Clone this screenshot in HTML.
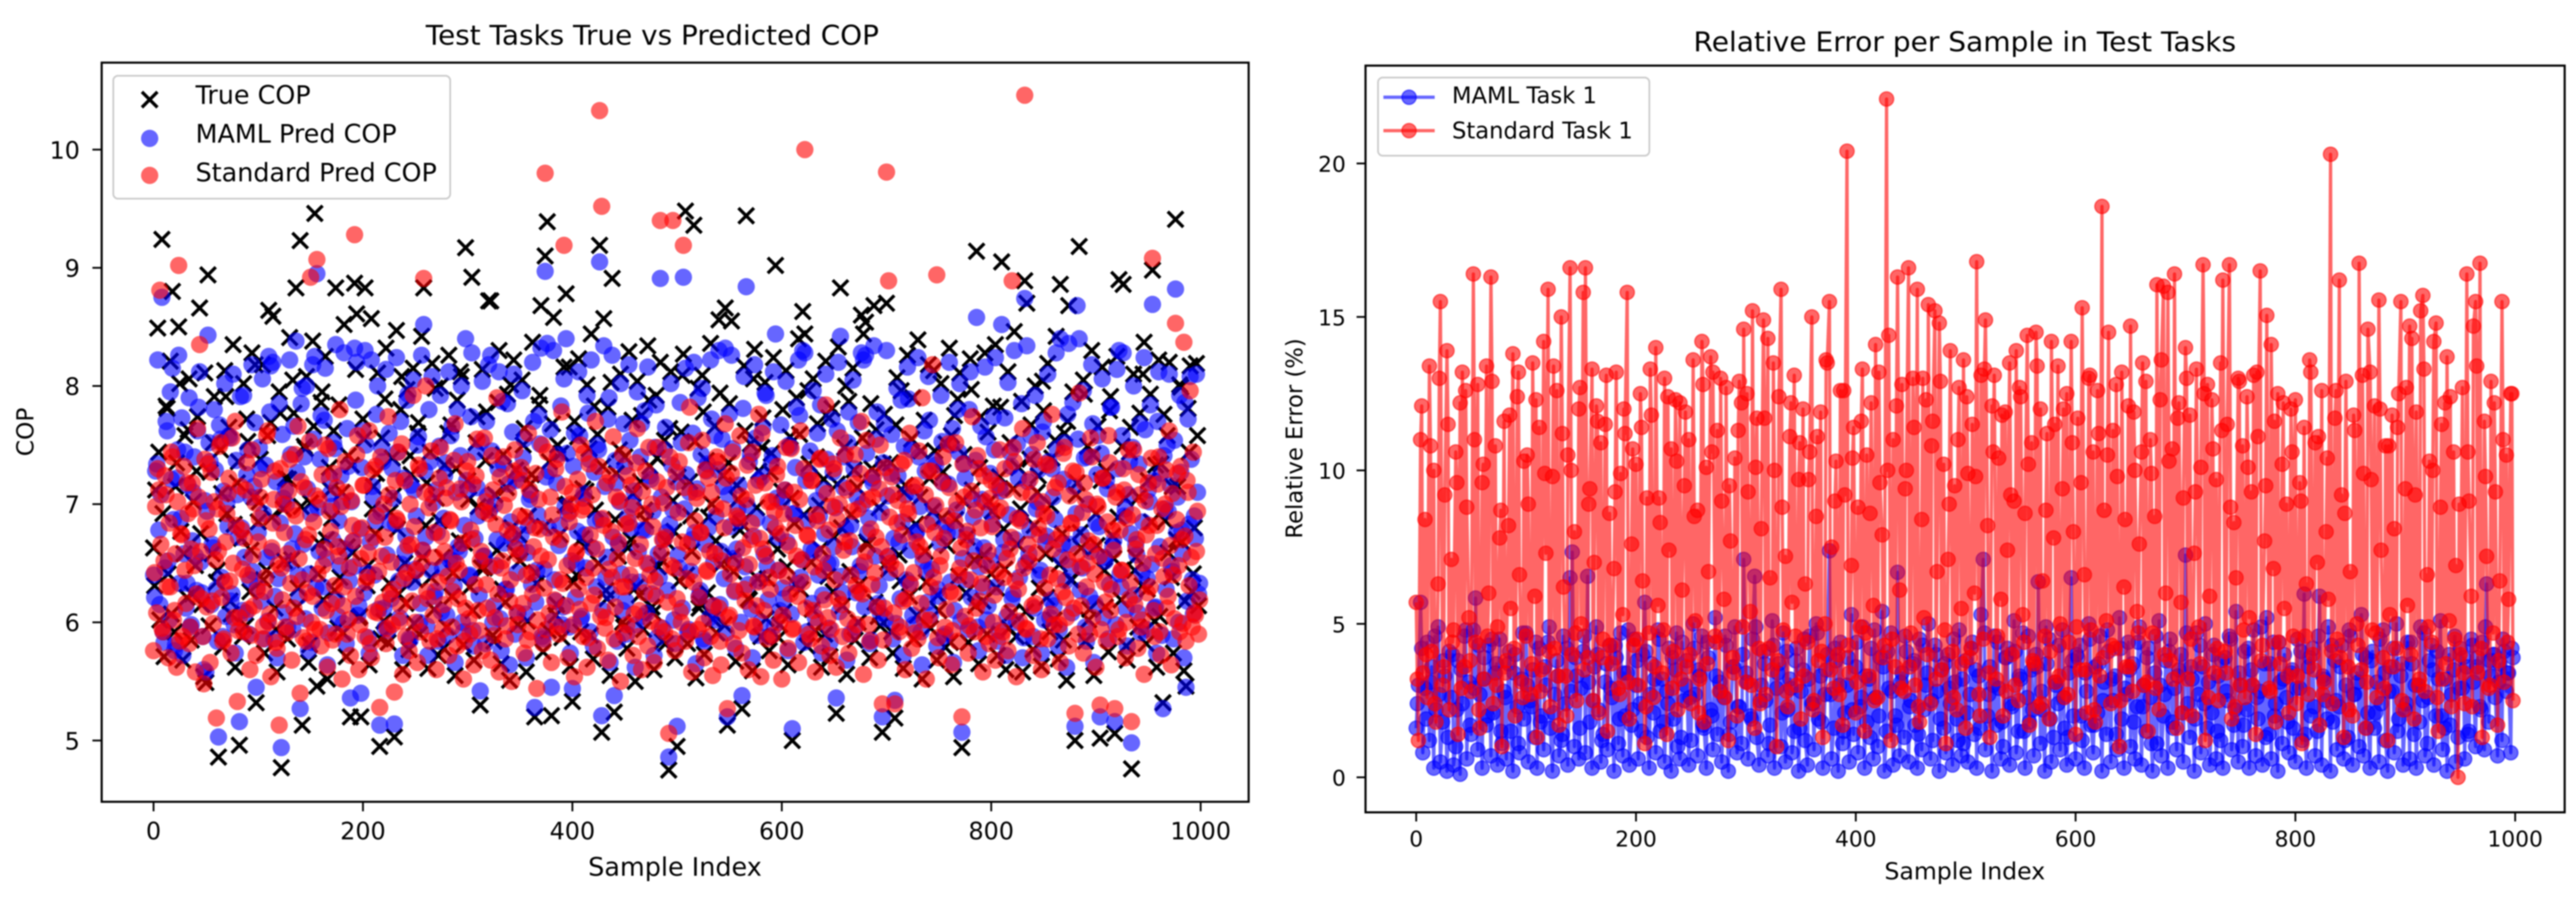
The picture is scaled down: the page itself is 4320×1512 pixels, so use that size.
<!DOCTYPE html>
<html lang="en">
<head>
<meta charset="utf-8">
<title>COP prediction charts</title>
<style>
html,body{margin:0;padding:0;background:#fff;}
#figure{display:block;width:4320px;height:1512px;filter:blur(1px);font-family:"DejaVu Sans","Liberation Sans",sans-serif;fill:#000;}
</style>
</head>
<body>
<svg id="figure" xmlns="http://www.w3.org/2000/svg" width="4320" height="1512" viewBox="0 0 4320 1512">
<rect x="0" y="0" width="4320" height="1512" fill="#fff"/>
<g id="left-panel">
  <g id="left-true"></g>
  <g id="left-maml"></g>
  <g id="left-std"></g>
  <g id="left-ticks"></g>
  <rect x="170.5" y="105" width="1923.5" height="1239" fill="none" stroke="#000" stroke-width="3.5"/>
  <text x="714" y="75" font-size="45" textLength="760" lengthAdjust="spacingAndGlyphs">Test Tasks True vs Predicted COP</text>
  <text x="1132" y="1468" font-size="42.7" text-anchor="middle">Sample Index</text>
  <text transform="translate(56,724) rotate(-90)" font-size="39" text-anchor="middle">COP</text>
  <g>
    <rect x="190" y="127" width="565" height="206" rx="8" fill="#fff" fill-opacity="0.8" stroke="#ccc" stroke-width="3"/>
    <path d="M238 154L264 180M238 180L264 154" stroke="#000" stroke-width="5.5" fill="none"/>
    <text x="328" y="174" font-size="42.6">True COP</text>
    <circle cx="251" cy="232" r="14.5" fill="#00f" fill-opacity="0.6"/>
    <text x="328" y="239" font-size="42.6">MAML Pred COP</text>
    <circle cx="251" cy="294" r="14.5" fill="#f00" fill-opacity="0.6"/>
    <text x="328" y="304" font-size="42.6">Standard Pred COP</text>
  </g>
</g>
<g id="right-panel">
  <g id="right-maml"></g>
  <g id="right-std"></g>
  <g id="right-ticks"></g>
  <rect x="2290" y="110" width="2011" height="1251.7" fill="none" stroke="#000" stroke-width="3.5"/>
  <text x="2840" y="86" font-size="45" textLength="910" lengthAdjust="spacingAndGlyphs">Relative Error per Sample in Test Tasks</text>
  <text x="3295" y="1474" font-size="39.5" text-anchor="middle">Sample Index</text>
  <text transform="translate(2184,735) rotate(-90)" font-size="38" text-anchor="middle">Relative Error (%)</text>
  <g>
    <rect x="2311" y="130" width="455" height="131" rx="8" fill="#fff" fill-opacity="0.8" stroke="#ccc" stroke-width="3"/>
    <line x1="2320" y1="163" x2="2406" y2="163" stroke="#00f" stroke-opacity="0.6" stroke-width="5.5"/>
    <circle cx="2363" cy="163" r="12" fill="#00f" fill-opacity="0.6" stroke="#00f" stroke-opacity="0.6" stroke-width="2"/>
    <text x="2435" y="173" font-size="38">MAML Task 1</text>
    <line x1="2320" y1="219" x2="2406" y2="219" stroke="#f00" stroke-opacity="0.6" stroke-width="5.5"/>
    <circle cx="2363" cy="219" r="12" fill="#f00" fill-opacity="0.6" stroke="#f00" stroke-opacity="0.6" stroke-width="2"/>
    <text x="2435" y="232" font-size="38">Standard Task 1</text>
  </g>
</g>
</svg>
<script>
const sampleStep = 2;
const extraStep = 4;
const xTicks = [0,200,400,600,800,1000];
const copTicks = [5,6,7,8,9,10];
const errorTicks = [0,5,10,15,20];
const trueCop = [
6.63,7.12,8.49,6.02,9.24,5.71,7.83,6.41,8.21,8.80,5.92,7.35,8.50,6.77,5.68,7.58,6.21,8.06,5.85,7.02,6.48,7.74,8.66,6.15,5.54,
5.49,8.94,7.27,6.58,7.91,6.34,4.86,7.46,5.79,8.13,6.92,7.65,6.07,8.35,5.62,7.18,4.96,6.71,8.02,5.97,7.53,6.26,8.28,7.06,5.32,
6.85,7.38,8.18,5.74,6.44,8.64,7.69,8.59,6.12,5.58,7.95,4.77,6.96,7.22,5.86,8.41,6.53,7.77,8.83,6.29,9.23,5.13,7.49,8.08,5.66,
7.01,8.38,9.46,5.46,6.67,7.86,6.19,8.25,5.52,7.31,6.88,7.62,8.83,5.95,6.38,7.10,8.52,5.71,7.41,5.20,6.59,8.87,8.61,6.04,5.20,
7.72,8.83,6.31,5.64,8.57,7.15,6.75,8.11,4.95,7.56,6.01,8.32,5.83,6.93,7.39,5.03,8.47,6.24,7.80,5.60,6.50,7.97,5.77,7.25,8.15,
6.36,7.60,5.90,8.42,8.83,6.82,5.61,7.44,8.19,6.11,7.05,5.72,8.00,6.55,7.33,5.96,8.26,7.67,6.42,5.55,7.88,6.69,8.08,5.81,9.17,
7.20,6.30,8.92,5.68,7.52,6.98,5.30,8.14,6.46,7.78,8.72,8.72,5.89,7.08,6.61,8.30,5.65,7.42,6.17,7.93,5.51,6.80,8.22,7.29,5.98,
6.52,8.05,7.64,5.58,6.90,7.17,8.37,5.20,6.33,7.84,8.68,5.75,9.10,9.39,7.36,5.21,8.58,6.06,7.50,6.74,5.87,8.16,8.78,7.00,5.63,
5.33,7.70,6.40,8.23,5.92,7.13,6.64,8.01,7.47,8.44,5.69,6.95,7.59,9.19,5.07,8.57,6.27,7.82,5.55,8.91,5.24,7.26,6.56,8.10,6.00,
7.40,5.78,8.29,6.70,7.09,5.50,8.04,6.23,7.75,5.94,6.86,8.34,7.32,6.13,5.60,7.92,6.47,8.20,5.84,7.54,6.68,4.75,8.12,7.03,5.70,
4.95,6.35,7.61,8.27,9.48,5.82,7.19,6.60,9.36,5.53,7.98,6.16,8.09,5.73,7.37,6.89,8.36,6.03,7.66,5.91,8.56,6.49,7.24,8.66,5.13,
7.85,8.55,6.43,5.67,7.04,6.78,5.27,8.17,9.44,6.20,7.51,5.59,8.31,6.97,7.28,5.88,7.73,8.03,6.37,5.76,7.43,8.24,9.02,6.62,5.98,
7.11,6.09,8.13,5.64,7.57,5.00,6.84,7.90,8.40,6.28,8.63,8.44,5.80,7.34,6.51,8.06,5.93,7.68,6.99,5.62,7.21,8.21,6.39,5.71,7.81,
6.72,5.23,8.33,8.83,6.14,7.48,5.56,7.87,6.91,8.15,5.85,7.14,6.32,8.60,8.44,8.54,6.66,5.70,7.30,8.68,7.63,6.05,5.97,5.07,7.76,
8.70,6.45,7.35,5.74,5.19,8.07,6.57,7.96,5.61,7.16,8.26,6.22,7.55,5.86,6.83,8.39,7.06,5.52,7.71,6.34,8.18,5.95,6.94,7.45,5.68,
6.10,8.02,7.27,5.79,6.65,8.32,7.58,5.54,6.87,7.89,8.11,4.94,7.42,6.25,5.83,8.23,7.12,6.53,9.14,5.65,7.74,6.18,8.28,5.90,7.02,
6.41,7.83,8.35,5.72,7.23,9.05,6.79,5.60,8.12,7.52,6.08,8.46,5.88,7.31,6.96,5.58,8.89,8.70,6.48,7.67,5.77,8.00,7.10,6.29,5.63,
7.79,6.58,8.19,5.92,7.39,6.02,8.42,5.69,8.86,6.75,7.60,5.51,8.68,6.36,7.95,5.00,7.18,9.18,6.63,8.05,5.84,7.49,6.11,8.30,5.55,
6.92,7.66,5.02,8.16,6.44,7.28,5.75,7.91,6.73,5.06,8.25,8.90,6.19,8.86,7.05,5.68,7.44,4.76,8.10,6.55,5.96,7.77,6.31,8.37,5.82,
7.20,7.93,8.98,6.01,5.62,8.22,7.34,5.32,6.86,7.58,8.20,6.38,5.74,9.41,7.15,8.01,6.68,5.59,5.46,7.81,8.17,6.26,6.80,8.19,6.14
];
const trueCopExtra = [
6.31,7.44,6.92,7.81,6.07,7.15,8.02,6.58,7.63,6.24,7.28,6.75,8.11,5.97,7.52,6.44,7.09,7.91,6.18,6.83,7.36,5.88,7.72,6.61,8.18,
7.02,6.36,7.58,6.89,5.94,7.77,6.52,7.21,8.05,6.13,6.98,7.47,5.81,7.66,6.41,7.95,6.70,7.12,6.27,7.84,5.91,6.64,7.33,8.14,6.05,
7.55,6.48,6.96,7.26,5.86,7.89,6.33,7.07,6.79,8.08,6.16,7.41,5.99,7.69,6.55,7.18,6.38,7.98,6.86,5.78,7.60,6.22,7.30,8.12,6.67,
7.04,6.10,7.74,6.46,7.37,6.93,5.84,7.86,6.28,7.14,8.01,6.59,6.74,7.50,6.01,7.25,6.42,7.92,6.81,5.93,7.68,6.15,7.43,6.99,8.16,
6.34,7.57,6.71,7.11,5.89,7.83,6.50,7.32,6.20,8.03,6.87,7.46,5.96,6.63,7.71,6.30,7.19,6.95,7.88,6.08,7.39,6.53,5.82,7.64,6.77,
7.23,8.09,6.40,6.90,7.53,6.12,7.78,6.25,7.00,6.69,7.94,5.98,7.35,6.56,7.16,6.84,7.62,6.19,8.06,6.37,7.48,6.03,7.27,6.73,5.87,
7.80,6.47,7.05,6.32,7.59,6.91,7.96,6.11,7.40,6.62,5.90,7.73,6.26,7.17,6.80,8.00,6.43,7.29,6.00,7.56,6.68,7.85,6.17,6.97,7.34,
6.51,5.92,7.67,6.35,7.10,6.78,7.90,6.06,7.45,6.60,7.22,8.13,6.23,6.88,7.51,5.83,7.75,6.39,7.03,6.72,7.97,6.14,7.31,6.57,7.61,
6.94,6.29,7.82,6.45,5.95,7.13,6.66,7.87,6.09,7.38,6.82,7.24,8.04,6.21,6.99,7.54,6.49,5.85,7.70,6.36,7.08,6.76,7.93,6.02,7.42,
6.65,7.20,6.13,7.79,6.54,6.89,7.49,5.80,7.65,6.44,7.06,8.10,6.28,6.85,7.33,6.05,7.76,6.59,7.15,6.70,7.99,6.18,7.44,6.41,7.58
];
const mamlCop = [
6.40,7.28,8.22,6.15,8.75,5.83,7.70,6.52,7.95,8.15,5.76,7.22,8.26,6.88,5.72,7.44,6.33,7.90,5.98,7.10,6.56,7.62,8.12,6.25,5.60,
5.58,8.43,7.36,6.66,7.80,6.28,5.03,7.55,5.88,8.02,7.01,7.58,6.18,8.10,5.74,7.08,5.16,6.80,7.92,6.08,7.46,6.36,8.18,7.15,5.45,
6.76,7.30,8.06,5.86,6.55,8.25,8.17,8.20,6.22,5.70,7.85,4.94,7.05,7.12,5.96,8.22,6.62,7.66,8.38,6.40,5.27,7.98,7.40,8.00,5.76,
6.92,8.18,8.25,8.95,6.60,7.75,6.30,8.15,5.64,7.22,6.98,7.52,8.35,6.05,6.48,7.02,8.28,5.82,7.32,5.36,6.68,8.32,8.20,6.14,5.40,
7.62,8.30,6.42,5.74,8.22,7.06,6.86,8.00,5.13,7.48,6.12,8.14,5.93,6.84,7.30,5.14,8.24,6.35,7.70,5.72,6.60,7.88,5.86,7.16,8.05,
6.45,7.50,6.00,8.26,8.52,6.72,5.72,7.36,8.08,6.22,7.12,5.84,7.92,6.46,7.24,6.06,8.12,7.58,6.52,5.66,7.80,6.60,8.00,5.92,8.40,
7.12,6.40,8.28,5.80,7.44,6.90,5.42,8.04,6.56,7.70,8.18,8.26,6.00,7.00,6.70,8.12,5.76,7.34,6.28,7.85,5.64,6.72,8.10,7.20,6.08,
6.62,7.96,7.55,5.70,6.82,7.08,8.20,5.28,6.44,7.75,8.32,5.86,8.97,8.36,7.28,5.45,8.30,6.18,7.42,6.82,5.98,8.06,8.40,6.92,5.74,
5.44,7.60,6.50,8.12,6.03,7.05,6.74,7.92,7.38,8.22,5.80,6.86,7.50,9.05,5.21,8.34,6.38,7.72,5.66,8.26,5.38,7.18,6.66,8.02,6.10,
7.32,5.90,8.18,6.80,7.00,5.62,7.95,6.34,7.68,6.05,6.78,8.16,7.24,6.24,5.72,7.84,6.58,8.91,5.95,7.46,6.76,4.86,8.02,6.95,5.82,
5.12,6.46,7.52,8.92,8.15,5.92,7.10,6.70,8.20,5.65,7.90,6.27,7.98,5.84,7.28,6.80,8.22,6.14,7.58,6.02,8.30,6.60,7.15,8.32,5.20,
7.76,8.26,6.54,5.78,6.96,6.86,5.38,8.08,8.84,6.32,7.42,5.70,8.18,6.88,7.20,6.00,7.65,7.94,6.48,5.88,7.34,8.12,8.44,6.72,6.10,
7.02,6.20,8.04,5.76,7.48,5.10,6.92,7.82,8.22,6.38,8.30,8.28,5.92,7.26,6.62,7.96,6.04,7.60,6.90,5.74,7.12,8.10,6.50,5.83,7.72,
6.64,5.36,8.20,8.42,6.25,7.40,5.68,7.78,6.82,8.05,5.96,7.06,6.43,8.28,8.22,8.26,6.76,5.82,7.22,8.34,7.55,6.16,6.08,5.20,7.68,
8.30,6.56,7.26,5.86,5.34,7.98,6.68,7.88,5.72,7.08,8.16,6.33,7.46,5.98,6.75,8.24,6.98,5.64,7.62,6.44,8.08,6.06,6.85,7.36,5.80,
6.22,7.92,7.18,5.90,6.76,8.20,7.50,5.66,6.78,7.80,8.02,5.07,7.34,6.36,5.94,8.12,7.04,6.64,8.58,5.76,7.66,6.30,8.16,6.02,6.94,
6.52,7.74,8.24,5.84,7.14,8.52,6.70,5.72,8.03,7.44,6.20,8.30,6.00,7.22,6.88,5.70,8.74,8.34,6.58,7.58,5.88,7.92,7.02,6.40,5.74,
7.70,6.68,8.10,6.04,7.30,6.14,8.28,5.80,8.40,6.66,7.52,5.62,8.36,6.47,7.86,5.12,8.68,8.40,6.74,7.96,5.96,7.40,6.22,8.18,5.66,
6.84,7.58,5.20,8.06,6.55,7.20,5.86,7.82,6.64,5.16,8.14,8.30,6.30,8.28,6.96,5.80,7.36,4.98,8.00,6.66,6.08,7.68,6.42,8.24,5.94,
7.12,7.84,8.69,6.12,5.74,8.12,7.26,5.27,6.96,7.50,8.10,6.48,5.86,8.82,7.06,7.92,6.78,5.70,5.45,7.72,8.08,6.36,6.90,8.10,6.24
];
const mamlCopExtra = [
6.21,7.34,6.78,7.08,5.92,6.46,7.62,6.02,7.21,6.87,5.81,7.46,6.33,7.73,6.58,6.12,7.16,5.96,6.69,7.40,6.27,7.82,6.51,5.88,7.03,
6.94,7.52,6.15,6.63,7.29,5.84,7.67,6.38,7.11,6.05,6.81,7.56,6.24,5.98,7.37,6.72,7.91,6.10,6.55,7.25,5.90,7.06,6.43,7.69,6.30,
7.48,6.18,6.92,7.33,6.01,7.78,6.60,5.86,7.19,6.37,6.84,7.59,6.08,7.00,6.50,7.42,5.94,6.75,7.27,6.22,7.85,6.66,6.03,7.13,6.41,
5.83,7.55,6.29,6.97,7.38,6.12,7.71,6.54,5.91,7.09,6.70,7.47,6.19,6.86,7.24,5.99,6.62,7.64,6.35,7.02,6.47,7.88,6.06,6.79,7.31,
6.25,7.50,5.87,6.68,7.15,6.40,7.76,6.11,6.93,7.36,5.95,6.57,7.60,6.20,7.05,6.83,7.44,6.04,6.49,7.22,6.73,7.93,5.85,6.34,7.12,
6.90,7.57,6.16,6.61,7.28,5.97,7.80,6.44,7.01,6.26,6.76,7.49,6.09,6.88,7.35,5.89,6.53,7.66,6.31,7.10,6.64,7.41,6.00,6.82,7.20,
6.39,7.74,5.93,6.71,7.14,6.23,7.53,6.56,5.82,7.07,6.95,7.45,6.14,6.48,7.30,6.03,7.87,6.67,6.28,7.17,6.85,7.61,5.90,6.42,7.26,
6.74,7.39,6.07,6.59,7.04,6.32,7.70,6.17,6.91,7.51,5.88,6.45,7.23,6.80,7.63,6.01,6.36,7.18,6.65,7.83,6.13,6.98,7.43,5.96,6.52,
7.32,6.21,6.77,7.58,6.05,7.09,6.46,7.77,5.92,6.63,7.27,6.30,7.46,6.87,6.10,7.15,6.55,7.90,6.24,6.72,7.37,5.84,7.02,6.41,7.68,
6.18,6.89,7.54,6.34,7.11,5.98,6.60,7.40,6.78,7.79,6.08,6.49,7.21,6.94,7.48,5.87,6.38,7.06,6.70,7.65,6.27,6.83,7.33,6.02,7.19,
6.57,7.86,6.12,6.96,7.25,5.94,6.43,7.60,6.76,7.13,6.22,7.42,5.86,6.66,7.34,6.04,7.72,6.51,6.90,7.29,6.15,7.55,6.37,5.91,7.08,
6.81,7.47,6.26,6.62,7.16,6.00,7.81,6.47,6.99,7.36,6.11,6.73,7.56,5.89,6.35,7.23,6.58,7.92,6.19,6.84,7.41,5.97,7.05,6.44,7.67,
6.29,7.12,6.68,7.50,6.07,6.92,7.31,6.33,7.75,6.53,5.83,7.20,6.86,7.45,6.16,6.60,7.03,6.40,7.84,6.23,6.75,7.38,5.95,6.50,7.27,
6.97,7.62,6.09,6.39,7.14,6.79,7.52,5.90,6.64,7.30,6.25,7.69,6.48,7.00,6.13,7.43,6.88,5.85,7.18,6.56,7.78,6.31,6.93,7.35,6.03,
7.07,6.42,7.59,6.71,5.99,7.24,6.20,6.85,7.49,6.36,7.89,6.61,6.06,7.10,6.77,7.40,5.92,6.52,7.28,6.17,7.71,6.45,6.98,7.33,6.28,
6.67,7.53,5.88,6.82,7.17,6.34,7.64,6.10,6.95,7.44,6.01,6.54,7.22,6.74,7.80,6.21,6.89,7.37,5.96,6.47,7.04,6.63,7.57,6.14,7.26,
6.83,7.46,6.30,5.93,7.11,6.59,7.73,6.05,6.91,7.32,6.24,6.70,7.51,6.38,7.85,5.87,6.50,7.19,6.78,7.42,6.12,6.96,7.29,6.44,7.61,
6.02,6.73,7.36,6.19,7.06,6.87,7.47,5.94,6.55,7.21,6.35,7.76,6.66,6.08,7.15,6.92,7.55,6.27,6.46,7.39,5.84,7.00,6.60,7.68,6.16,
7.25,6.81,7.43,6.04,6.52,7.13,6.32,7.82,6.69,5.98,7.30,6.41,7.58,6.90,6.11,7.08,6.75,7.48,6.23,6.57,7.34,5.91,6.85,7.63,6.37,
7.02,6.49,7.20,6.13,7.70,6.64,5.89,7.41,6.28,6.94,7.16,6.43,7.54,6.76,6.00,7.27,6.58,7.86,6.18,6.83,7.38,6.07,6.71,7.10,6.33
];
const standardCop = [
5.76,6.98,7.30,8.81,5.95,6.52,7.08,5.70,6.30,7.40,6.10,5.62,9.02,6.75,5.88,6.44,7.18,5.82,6.62,6.96,5.58,7.64,8.35,6.20,5.48,
6.86,7.34,5.66,6.18,7.02,5.19,6.60,7.52,5.84,6.34,6.92,7.22,5.74,6.50,7.70,5.33,6.04,6.78,5.92,7.12,6.40,5.60,7.46,6.14,5.72,
6.68,7.06,5.86,6.26,7.58,6.00,5.54,6.84,7.28,5.78,5.13,6.46,7.00,5.96,6.58,7.38,5.68,6.12,6.90,7.66,5.40,6.36,7.14,5.84,6.74,
8.92,6.22,5.94,9.07,7.04,5.80,6.48,7.50,5.62,6.94,6.16,7.26,5.90,6.64,7.80,5.52,6.30,7.10,6.02,5.72,6.82,9.28,7.42,5.60,6.54,
7.16,5.88,6.38,7.62,5.70,6.72,7.32,6.08,5.28,6.56,7.00,5.82,7.74,6.24,5.98,5.41,6.88,7.44,6.14,5.56,7.20,6.42,5.76,6.66,7.92,
6.00,5.66,7.30,6.50,8.91,8.00,6.20,5.84,7.08,6.76,5.60,6.34,7.48,5.94,6.60,7.14,5.72,6.86,6.26,7.68,5.80,6.44,7.02,5.52,6.12,
7.36,5.90,6.70,5.64,7.24,6.10,6.52,5.76,7.56,6.32,6.92,5.68,7.12,6.04,7.90,5.58,6.46,7.40,5.86,6.78,6.18,5.50,7.28,6.62,5.98,
6.90,7.20,5.74,6.40,7.60,5.92,6.24,6.80,5.44,7.04,6.56,5.82,9.80,7.44,6.08,5.66,6.72,7.30,5.96,6.36,7.78,9.19,6.14,5.70,6.94,
7.10,5.54,6.60,6.28,7.50,5.88,6.98,5.62,7.34,6.16,6.46,7.70,5.78,10.33,9.52,6.82,6.04,5.68,7.24,6.38,5.86,7.06,6.68,5.50,7.42,
6.30,5.98,6.84,7.16,5.72,6.54,7.64,6.10,5.60,6.92,7.28,5.80,6.40,7.00,5.66,6.22,7.48,9.40,6.70,5.92,7.14,5.06,6.48,9.40,5.76,
6.20,7.36,6.00,9.19,5.84,6.66,7.82,5.58,6.34,7.10,5.94,6.76,7.54,5.70,6.44,7.22,5.88,5.55,6.58,7.40,6.12,5.64,6.96,7.68,5.27,
6.06,7.26,5.82,6.50,6.88,7.58,5.74,6.28,7.04,5.60,6.70,7.44,5.96,6.14,7.76,5.54,6.62,7.18,5.86,6.38,7.02,5.68,6.80,7.32,6.00,
5.52,6.92,7.48,5.78,6.24,5.94,7.10,6.56,5.66,7.62,6.34,10.00,6.74,5.90,7.20,6.10,5.58,6.86,7.38,5.80,6.44,7.84,6.04,5.72,6.98,
7.30,5.62,6.20,7.56,5.88,6.68,7.12,5.74,6.40,6.94,7.42,5.98,6.26,7.70,5.56,6.60,7.04,5.84,6.32,7.24,6.72,5.68,7.50,5.31,6.12,
9.81,8.89,6.50,7.08,5.31,6.84,5.92,7.34,6.18,5.60,6.96,7.60,5.78,6.42,7.16,5.86,6.64,7.90,6.02,5.52,7.28,6.30,8.18,6.76,8.94,
5.70,6.56,7.40,5.96,6.90,7.14,5.64,6.24,7.52,5.84,6.46,5.20,7.06,6.70,5.74,6.36,7.74,5.92,6.12,7.30,6.80,5.58,7.02,6.48,5.82,
7.20,6.00,5.68,6.94,7.46,5.88,6.38,7.12,5.76,6.62,8.89,7.36,5.54,6.28,6.86,7.64,10.46,5.94,6.52,7.08,5.72,6.16,7.52,6.74,5.60,
6.92,7.34,5.86,6.40,7.76,5.98,6.70,7.18,5.66,6.26,7.48,6.04,5.80,6.84,7.28,5.23,6.58,7.94,6.14,5.74,7.04,6.50,5.90,7.40,6.66,
5.62,6.98,5.30,7.22,6.34,5.84,7.58,6.10,6.78,5.27,7.10,5.94,6.44,7.30,5.70,6.88,6.20,5.16,7.46,6.62,5.78,7.08,6.02,5.56,6.74,
7.18,6.30,9.08,5.88,6.82,7.40,5.72,6.54,7.00,6.12,7.62,5.64,6.40,8.53,7.26,5.92,6.70,8.37,5.84,7.10,7.96,5.96,6.08,6.60,5.90
];
const standardCopExtra = [
6.42,6.08,7.12,6.66,5.92,7.24,6.30,6.84,7.44,6.02,6.58,7.02,5.84,6.74,7.32,6.16,6.92,5.96,7.18,6.48,6.24,7.06,6.60,5.88,7.38,
6.13,6.79,7.27,5.99,6.53,6.96,7.49,6.21,5.86,6.68,7.09,6.35,7.56,6.04,6.82,5.93,7.15,6.45,6.71,7.35,6.11,5.89,6.57,7.01,6.27,
6.88,7.21,5.97,6.38,7.62,6.07,6.63,7.04,5.83,6.49,7.30,6.19,6.76,5.91,7.11,6.33,6.95,7.42,6.05,6.54,7.19,5.87,6.70,6.25,7.53,
6.00,6.85,7.07,6.41,5.94,7.25,6.62,6.10,7.47,6.77,5.85,6.31,7.14,6.56,6.98,6.14,7.36,5.90,6.46,7.03,6.69,6.22,7.58,5.98,6.80,
7.16,6.34,6.59,5.82,7.29,6.09,6.90,6.43,7.40,6.17,6.72,5.95,7.08,6.51,6.28,7.20,6.86,6.01,7.51,6.37,5.88,6.65,7.00,6.18,6.81,
6.44,7.33,5.92,6.61,7.10,6.26,6.97,7.45,6.06,6.55,5.86,7.22,6.73,6.15,7.05,6.39,6.87,5.96,7.37,6.50,6.20,7.13,6.67,5.84,7.28,
6.03,6.78,7.17,6.32,7.55,5.93,6.60,6.94,7.02,6.12,6.47,7.41,5.89,6.83,6.24,7.23,6.52,6.99,5.97,7.09,6.36,6.75,7.46,6.08,6.57,
7.31,6.16,6.89,5.85,7.12,6.42,6.64,7.26,6.02,6.79,7.50,6.29,5.94,6.53,7.06,6.91,6.19,7.38,5.90,6.70,6.33,7.15,6.48,6.85,7.00,
5.98,6.58,7.21,6.11,6.95,7.43,6.38,5.87,6.74,7.08,6.23,6.62,7.32,6.05,6.88,5.95,7.18,6.45,6.77,7.57,6.13,6.54,7.03,6.30,5.91,
6.83,7.24,6.40,6.97,6.07,7.35,5.88,6.66,7.11,6.25,6.50,7.48,6.01,6.81,6.35,7.19,5.96,6.59,7.01,6.72,6.17,7.40,5.86,6.46,7.27,
6.93,6.09,6.68,7.14,6.37,7.52,5.92,6.55,6.86,7.05,6.21,6.76,5.99,7.29,6.43,6.60,7.10,6.14,6.98,7.36,5.84,6.52,6.80,7.22,6.04,
6.41,7.44,6.27,6.90,5.93,7.07,6.63,6.18,7.33,6.49,6.84,5.97,7.16,6.34,6.71,7.60,6.10,6.56,7.02,6.28,5.89,6.94,7.25,6.44,6.75,
6.06,7.12,6.39,6.65,7.47,5.95,6.82,6.22,7.04,6.53,7.30,6.12,6.73,5.86,7.20,6.47,6.91,6.00,7.39,6.58,6.19,7.09,6.78,5.94,7.34,
6.36,6.87,7.00,6.15,6.61,7.42,6.03,6.69,5.90,7.17,6.31,6.96,7.26,6.24,6.51,7.54,5.98,6.79,7.06,6.42,6.13,7.13,6.64,5.85,7.31,
6.55,6.89,7.23,6.08,6.45,7.03,5.96,6.74,7.37,6.20,6.92,6.32,7.15,5.91,6.68,7.45,6.16,6.57,7.08,6.83,6.02,7.28,6.38,6.99,5.87,
6.48,7.19,6.71,6.11,7.51,6.26,5.93,6.86,7.01,6.40,6.63,7.34,6.05,6.77,5.97,7.11,6.52,6.95,7.41,6.18,6.33,7.24,5.88,6.60,7.05,
6.81,6.23,7.16,6.43,6.97,5.92,7.30,6.54,6.09,6.72,7.48,6.35,6.88,6.01,7.10,6.46,5.95,6.66,7.21,6.14,7.38,6.59,6.80,5.86,7.02,
6.29,6.90,7.33,6.07,6.62,7.14,6.37,5.98,6.75,7.43,6.21,6.53,7.07,6.84,6.12,7.27,5.90,6.47,6.93,7.18,6.30,6.69,7.56,6.04,6.41,
7.00,6.56,5.94,7.22,6.17,6.85,7.35,6.28,6.61,7.06,5.88,6.78,6.44,7.12,6.00,7.46,6.34,6.91,6.15,6.70,7.25,5.96,6.50,7.03,6.25,
6.82,7.39,6.10,6.58,7.17,5.92,6.96,6.39,7.29,6.22,6.65,7.09,6.03,6.87,6.48,7.32,5.99,6.73,7.20,6.31,6.55,7.44,6.06,6.94,6.19
];
const mamlError = [
1.6,3.0,5.7,0.8,2.9,4.4,1.2,3.6,0.3,2.2,4.9,0.5,1.8,3.3,0.2,4.1,2.6,0.4,1.0,3.8,0.1,2.4,4.6,0.6,3.1,
1.4,4.8,5.84,0.9,2.7,0.3,3.9,1.7,4.3,0.7,2.1,3.4,0.4,4.5,1.1,2.8,0.6,3.7,1.5,0.2,4.0,2.3,0.8,3.2,1.9,
4.7,0.5,2.5,3.5,1.3,0.3,4.2,2.0,0.9,3.0,4.4,1.6,0.2,2.7,3.8,0.7,1.2,4.6,2.4,0.4,6.5,7.34,1.0,3.3,0.6,
2.9,4.1,0.8,6.55,1.8,0.3,3.6,4.9,2.2,0.5,1.4,3.1,0.9,4.3,2.6,0.2,3.9,1.1,4.7,0.7,2.0,3.4,0.4,1.7,4.5,
3.0,0.6,2.4,4.0,5.7,1.3,0.3,3.7,2.1,0.8,4.8,1.5,3.2,0.5,2.8,4.2,0.2,1.9,3.5,1.0,0.6,4.4,2.5,3.8,0.4,
1.2,5.0,2.7,0.7,3.3,4.6,1.6,0.3,3.9,2.2,0.9,5.2,1.4,3.1,0.5,2.6,4.3,0.2,1.8,3.6,4.9,0.8,2.3,1.1,7.1,
3.4,0.6,2.0,4.5,6.55,1.3,0.4,3.0,4.1,2.5,0.7,1.7,5.1,0.3,2.9,3.7,1.0,4.7,0.5,2.2,3.2,0.8,1.5,4.2,0.2,
2.8,3.5,1.2,0.4,4.6,2.4,0.9,5.0,1.9,3.3,0.3,2.7,4.0,7.38,0.6,1.6,3.8,0.2,4.4,1.1,2.1,3.0,0.5,5.3,1.4,
3.6,0.8,2.3,4.9,0.3,1.8,3.2,4.2,0.6,2.6,1.0,3.9,5.4,0.2,1.5,2.9,4.7,0.4,2.0,6.68,0.7,3.4,1.3,4.1,0.5,
2.5,3.7,1.7,0.3,4.5,0.9,2.2,3.0,5.0,0.6,1.2,4.3,2.8,0.2,3.5,1.6,0.8,4.0,2.4,0.4,3.1,1.9,4.8,0.7,1.1,
3.8,0.5,2.7,4.4,1.4,0.3,3.3,5.3,7.1,0.9,2.0,3.6,0.2,4.6,1.7,2.9,0.6,1.0,3.9,4.2,0.4,2.3,5.1,0.8,1.5,
3.2,4.7,0.3,2.6,1.8,3.5,0.7,4.0,6.37,1.1,2.2,0.2,3.7,4.5,0.5,1.3,3.0,2.4,0.9,4.8,1.6,0.4,3.4,6.5,2.0,
0.6,3.9,4.3,1.2,0.3,2.8,5.0,1.7,0.8,3.6,2.1,4.6,0.2,3.1,1.4,4.1,0.5,2.5,3.3,0.9,5.2,1.9,0.3,2.7,4.4,
1.0,3.7,0.6,2.3,4.9,0.4,3.0,1.5,4.2,2.6,0.2,3.4,1.1,5.1,0.7,2.0,3.8,0.3,4.5,1.8,2.9,0.9,3.5,4.0,0.5,
7.24,2.4,1.3,3.2,0.2,4.7,2.7,0.8,3.6,5.0,1.6,0.4,2.1,4.3,0.6,3.3,1.2,0.3,3.9,2.5,4.6,0.9,1.7,5.4,0.5,
3.0,1.0,4.1,2.2,0.3,3.5,4.8,0.7,1.9,2.8,0.4,3.7,5.2,1.4,0.6,4.4,2.4,0.2,3.1,1.1,4.0,2.6,0.8,3.4,1.6,
0.5,4.5,2.9,1.2,5.97,0.3,3.6,2.0,4.2,0.7,1.5,5.9,0.4,3.2,2.5,4.9,0.2,1.8,3.8,0.9,2.3,4.3,0.6,3.0,1.3,
4.6,0.4,2.7,3.4,1.0,5.3,0.7,3.9,2.1,0.3,4.1,1.6,3.1,0.5,2.4,4.8,1.2,0.2,3.6,2.8,0.8,5.0,1.9,3.3,0.4,
2.2,4.4,0.6,3.7,1.4,0.3,3.0,4.9,2.5,0.7,1.1,3.8,4.3,0.4,2.0,3.2,5.1,0.9,1.6,0.2,4.0,2.7,3.5,0.5,1.3,
4.2,2.9,0.6,3.6,1.5,4.5,3.1,1.0,3.9,2.3,4.4,0.9,6.3,1.8,3.3,4.0,2.6,0.7,3.7,1.2,4.1,2.8,3.4,0.8,3.9
];
const mamlErrorExtra = [
2.4,4.2,1.9,3.1,4.6,2.7,3.8,1.3,4.0,2.2,3.5,4.8,1.7,2.9,4.3,3.2,2.0,4.5,3.7,1.5,2.6,4.1,3.4,1.1,4.7,
3.0,2.3,4.4,1.8,3.6,4.9,2.1,3.3,1.4,4.2,2.8,3.9,1.6,4.6,3.1,2.5,4.0,1.2,3.7,2.9,4.3,1.9,3.4,4.8,2.2,
3.8,1.5,4.1,2.7,3.2,4.5,1.8,2.4,3.9,4.7,1.3,3.0,2.6,4.2,3.5,1.7,4.4,2.0,3.3,2.8,4.6,1.4,3.6,2.3,4.0,
3.1,1.9,4.9,2.5,3.7,1.1,4.3,3.4,2.1,4.1,2.9,3.8,1.6,4.5,3.2,2.4,4.7,1.8,3.5,2.7,4.2,3.0,1.5,3.9,2.2,
4.4,2.6,3.3,1.3,4.8,2.0,3.6,4.1,2.8,1.7,3.1,4.6,2.3,3.8,1.4,4.3,3.4,2.5,4.0,1.9,3.7,2.9,4.5,1.2,3.2,
2.1,4.2,3.5,1.6,4.7,2.7,3.0,4.4,1.8,3.9,2.4,4.1,3.3,1.5,4.6,2.2,3.6,2.8,4.9,1.9,3.1,4.3,2.6,1.3,3.8,
4.0,2.0,3.4,4.5,1.7,3.7,2.5,4.8,3.2,1.4,4.2,2.9,3.5,1.8,4.4,2.3,3.9,1.1,4.6,3.0,2.7,4.1,1.6,3.3,2.1,
4.7,3.6,1.9,4.3,2.4,3.1,4.0,1.5,3.8,2.8,4.5,2.2,3.4,1.7,4.2,3.0,2.6,4.9,1.3,3.7,2.0,4.4,3.2,1.8,3.5,
2.9,4.1,1.4,3.9,2.3,4.6,3.3,1.9,4.3,2.5,3.6,1.2,4.8,2.7,3.1,4.0,1.6,3.8,2.1,4.5,3.4,2.8,4.2,1.5,3.7,
2.4,4.4,3.0,1.8,4.7,2.6,3.5,4.1,2.0,3.2,1.7,4.6,2.9,3.9,1.4,4.3,3.6,2.2,4.9,3.8,4.0,3.1,4.5,3.4,4.2
];
const standardError = [
5.7,1.2,11.0,3.4,8.4,2.6,13.4,4.1,10.0,1.8,6.3,15.5,3.0,9.2,13.9,2.2,7.1,4.8,10.6,1.4,12.2,13.2,3.6,8.8,5.2,
2.8,16.4,4.4,12.8,1.6,9.6,3.2,13.4,6.0,16.3,2.4,10.8,4.9,7.8,1.0,11.6,3.8,8.2,5.5,13.8,2.0,12.4,6.6,3.1,10.3,
4.6,8.9,2.7,13.5,5.9,1.3,11.4,3.5,14.2,7.3,15.9,2.3,9.8,4.2,12.6,1.7,15.0,6.2,3.3,10.5,16.6,4.0,8.0,2.5,12.0,
5.0,15.8,16.6,3.9,9.4,13.3,7.0,12.1,2.1,10.9,4.5,11.5,1.5,8.6,3.7,6.8,13.2,2.9,9.9,5.3,11.2,15.8,1.9,7.6,4.3,
10.2,3.0,12.5,6.4,1.1,9.1,4.7,11.8,2.6,14.0,5.6,8.3,3.4,13.0,1.4,7.4,10.7,4.1,12.3,2.2,12.2,6.1,9.5,3.6,11.0,
2.4,13.6,5.1,8.7,3.2,14.2,1.8,10.1,6.7,13.7,13.2,4.6,11.3,2.8,9.0,5.8,12.7,1.2,7.7,3.9,10.4,2.0,12.9,12.2,14.6,
3.1,9.3,5.4,15.2,1.6,11.7,4.2,8.1,14.9,2.7,14.3,6.5,3.5,10.0,1.0,12.4,15.9,4.8,7.2,2.3,11.1,5.7,13.1,3.0,9.7,
1.9,12.0,6.3,4.4,10.6,15.0,2.5,8.5,3.8,11.9,1.3,5.0,13.5,15.5,7.5,2.9,10.3,4.0,12.6,1.7,9.2,20.4,3.4,6.9,11.4,
2.1,8.8,4.9,13.3,1.5,10.5,3.3,12.2,5.6,14.1,2.6,9.6,7.9,4.3,22.1,14.4,1.2,11.0,3.6,16.3,6.1,12.8,2.8,10.0,16.6,
4.7,13.0,3.0,15.9,1.8,8.4,5.2,12.3,15.4,2.4,11.6,15.2,6.7,14.8,3.5,10.2,1.1,7.1,13.9,4.1,9.5,2.2,12.7,5.5,13.6,
1.6,9.9,3.9,11.5,6.0,16.8,2.7,13.1,4.5,14.9,8.2,1.3,12.1,13.1,3.2,10.4,5.8,2.0,11.9,7.4,13.5,4.0,9.0,13.9,2.5,
12.4,5.3,8.6,14.4,1.7,10.9,3.7,14.5,2.3,12.0,6.4,4.6,11.2,1.9,14.2,7.8,3.1,13.4,5.0,9.4,2.6,12.5,4.4,14.2,8.0,
1.4,11.7,3.5,15.3,6.6,2.1,13.0,4.8,10.6,1.8,12.6,3.3,18.6,8.7,5.1,14.5,2.4,11.3,4.2,9.8,1.0,13.2,6.2,3.6,12.1,
14.7,2.8,10.0,5.4,7.6,10.6,3.0,12.9,1.5,11.0,4.7,8.5,16.05,2.2,13.6,16.0,6.0,15.8,3.8,10.7,16.4,1.6,12.2,5.7,9.1,
14.0,3.2,11.8,2.0,7.3,13.3,4.9,10.1,16.7,1.2,12.8,5.9,12.3,3.4,9.7,2.5,13.5,16.2,4.1,11.5,16.7,1.9,8.3,6.5,13.0,
3.0,10.8,2.6,12.4,5.2,9.3,13.1,1.4,11.1,16.5,4.3,7.7,15.05,2.9,14.1,6.8,1.8,12.5,3.7,10.2,5.5,8.9,2.1,12.0,4.6,
12.3,3.3,9.6,1.1,11.4,6.3,2.7,13.2,4.0,10.9,7.0,1.7,12.6,3.1,8.0,5.8,20.3,2.4,11.7,4.5,16.2,9.2,1.3,12.9,3.6,
6.7,2.0,11.3,5.0,16.75,3.5,9.9,1.6,14.6,13.2,4.8,12.1,2.6,15.55,7.4,3.9,10.8,1.2,5.3,11.8,8.1,4.2,12.5,15.5,2.2,
9.4,5.6,14.7,14.3,1.9,11.9,3.0,15.2,15.7,2.8,6.6,10.3,4.4,14.2,14.8,1.5,8.8,3.2,12.2,13.7,5.1,2.3,10.6,6.9,0.0,
4.0,12.7,2.4,16.4,9.0,5.9,14.7,15.5,3.4,16.75,1.3,11.6,7.2,2.9,12.9,4.7,9.3,1.7,6.4,15.5,3.1,10.5,5.8,12.5,2.5
];
const standardErrorExtra = [
3.2,12.1,4.0,10.8,2.4,13.0,3.6,11.5,4.4,9.6,2.9,12.6,3.8,11.0,2.2,10.2,4.6,12.9,3.0,8.7,3.4,11.8,4.2,13.2,2.6,
10.5,3.7,12.3,2.8,9.9,4.1,13.4,3.3,11.2,2.0,10.0,4.7,12.7,3.5,8.9,2.5,11.6,3.9,13.1,4.3,9.3,2.7,12.0,3.1,10.7,
4.5,11.4,2.3,13.3,3.6,9.1,4.8,12.4,2.9,10.3,3.2,11.9,4.0,8.5,2.1,12.8,3.7,10.6,4.4,13.0,2.6,9.5,3.4,11.3,4.9,
12.5,3.0,10.1,2.4,11.7,4.2,13.5,3.8,8.8,2.8,12.2,4.6,10.9,3.3,9.7,2.2,11.1,4.1,13.6,3.5,9.0,2.7,12.6,4.3,10.4,
3.1,11.6,4.7,8.6,2.5,13.2,3.9,10.0,4.5,12.1,2.9,9.4,3.6,11.4,2.3,13.0,4.0,10.8,3.2,12.9,4.8,8.9,2.6,11.0,3.7,
12.4,4.2,9.8,2.0,13.3,3.4,10.6,4.6,11.8,2.8,9.2,3.0,12.7,4.4,10.2,3.8,13.4,2.4,8.7,4.1,11.5,3.3,12.0,2.7,10.9,
4.9,9.6,3.5,13.1,2.2,11.2,3.9,10.5,4.3,12.8,2.5,8.4,3.6,11.9,4.7,13.5,3.1,9.9,2.9,12.3,4.0,10.3,3.2,11.7,2.1,
13.0,4.5,9.3,3.7,12.5,2.6,10.7,4.2,11.3,3.4,8.8,2.3,12.9,4.8,10.1,3.0,13.2,3.8,9.5,2.8,11.6,4.4,12.2,3.3,10.6,
2.4,9.0,4.6,13.6,3.5,11.1,2.7,10.4,4.1,12.6,3.9,8.6,2.2,11.8,4.3,13.1,3.1,9.7,4.7,12.0,2.9,10.8,3.6,11.4,2.5,
12.7,4.0,9.2,3.2,13.3,4.9,10.0,2.6,11.5,3.7,12.4,4.5,8.9,3.4,10.6,2.3,13.4,4.2,9.8,3.0,12.2,3.8,11.0,4.4,12.5
];

const NS = 'http://www.w3.org/2000/svg';
function leftX(v){ return 257.5 + 1.756 * v; }
function leftY(v){ return 1241.3 - 198.1 * (v - 5); }
function rightX(v){ return 2375 + 1.843 * v; }
function rightY(v){ return 1303 - 51.45 * v; }
function make(tag, attrs, parent){
  const el = document.createElementNS(NS, tag);
  for (const k in attrs) el.setAttribute(k, attrs[k]);
  parent.appendChild(el);
  return el;
}
const leftTicks = document.getElementById('left-ticks');
const rightTicks = document.getElementById('right-ticks');

xTicks.forEach(function(t){
  const m = make('line', {x1:leftX(t), y1:1344, x2:leftX(t), y2:1360, stroke:'#000', 'stroke-width':3}, leftTicks);
  
  
  const l = make('text', {x:leftX(t), y:1407, 'font-size':40, 'text-anchor':'middle'}, leftTicks);
  l.textContent = t;
  
  
  const m2 = make('line', {x1:rightX(t), y1:1361, x2:rightX(t), y2:1377, stroke:'#000', 'stroke-width':3}, rightTicks);
  
  
  const l2 = make('text', {x:rightX(t), y:1419, 'font-size':36.5, 'text-anchor':'middle'}, rightTicks);
  l2.textContent = t;
  
  
});
copTicks.forEach(function(t){
  const m = make('line', {x1:155, y1:leftY(t), x2:170, y2:leftY(t), stroke:'#000', 'stroke-width':3}, leftTicks);
  
  
  const l = make('text', {x:134, y:leftY(t)+15, 'font-size':40, 'text-anchor':'end'}, leftTicks);
  l.textContent = t;
  
  
});
errorTicks.forEach(function(t){
  const m = make('line', {x1:2275, y1:rightY(t), x2:2290, y2:rightY(t), stroke:'#000', 'stroke-width':3}, rightTicks);
  
  
  const l = make('text', {x:2257, y:rightY(t)+14, 'font-size':36.5, 'text-anchor':'end'}, rightTicks);
  l.textContent = t;
  
  
});

function mergeSamples(main, extra){
  const merged = [];
  main.forEach(function(v, i){ merged.push({s:i * sampleStep, v:v}); });
  extra.forEach(function(v, i){ merged.push({s:1 + i * extraStep, v:v}); });
  merged.sort(function(a, b){ return a.s - b.s; });
  return merged;
}
function mergeHalfStep(main, extra){
  const merged = [];
  main.forEach(function(v, i){ merged.push({s:i * sampleStep, v:v}); });
  extra.forEach(function(v, i){ merged.push({s:1 + i * sampleStep, v:v}); });
  merged.sort(function(a, b){ return a.s - b.s; });
  return merged;
}

const gTrue = document.getElementById('left-true');
mergeSamples(trueCop, trueCopExtra).forEach(function(d){
  const x = leftX(d.s), y = leftY(d.v), h = 13;
  const p = make('path', {d:'M'+(x-h)+' '+(y-h)+'L'+(x+h)+' '+(y+h)+'M'+(x-h)+' '+(y+h)+'L'+(x+h)+' '+(y-h), stroke:'#000', 'stroke-width':5.5, fill:'none'}, gTrue);
  
  
});
const gLeftMaml = document.getElementById('left-maml');
mergeHalfStep(mamlCop, mamlCopExtra).forEach(function(d){
  const c = make('circle', {cx:leftX(d.s), cy:leftY(d.v), r:14.5, fill:'#00f', 'fill-opacity':0.6}, gLeftMaml);
  
  
});
const gLeftStd = document.getElementById('left-std');
mergeHalfStep(standardCop, standardCopExtra).forEach(function(d){
  const c = make('circle', {cx:leftX(d.s), cy:leftY(d.v), r:14.5, fill:'#f00', 'fill-opacity':0.6}, gLeftStd);
  
  
});

function drawErrorSeries(merged, color, group, lineName, pointName){
  const pts = merged.map(function(d){ return rightX(d.s) + ',' + rightY(d.v); }).join(' ');
  const line = make('polyline', {points:pts, fill:'none', stroke:color, 'stroke-opacity':0.6, 'stroke-width':5.5, 'stroke-linejoin':'round'}, group);
  
  
  merged.forEach(function(d){
    const c = make('circle', {cx:rightX(d.s), cy:rightY(d.v), r:12, fill:color, 'fill-opacity':0.6, stroke:color, 'stroke-opacity':0.6, 'stroke-width':2}, group);
    
    
  });
}
drawErrorSeries(mergeSamples(mamlError, mamlErrorExtra), '#00f', document.getElementById('right-maml'), 'maml-error-line', 'maml-error-point');
drawErrorSeries(mergeSamples(standardError, standardErrorExtra), '#f00', document.getElementById('right-std'), 'standard-error-line', 'standard-error-point');
</script>
</body>
</html>
